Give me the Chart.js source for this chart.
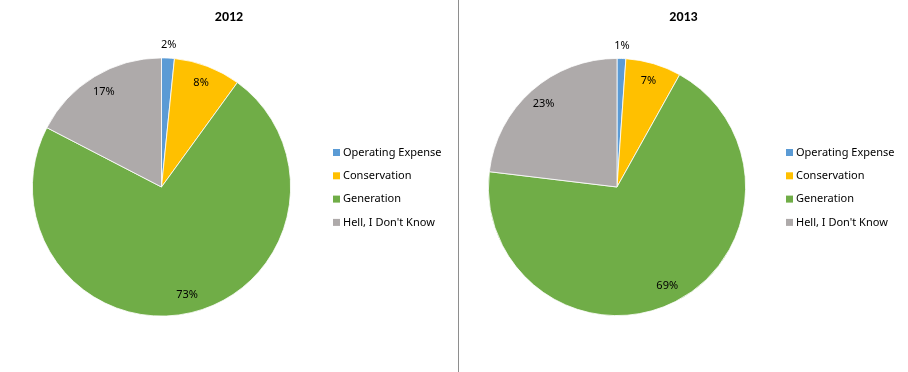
<!DOCTYPE html>
<html>
<head>
<meta charset="utf-8">
<script src="https://cdn.jsdelivr.net/npm/chart.js@4"></script>
<style>
  html, body { margin: 0; padding: 0; background: #fff; }
  #wrap { position: relative; width: 908px; height: 372px; overflow: hidden; }
  #c1 { position: absolute; left: 0; top: 0; }
  #c2 { position: absolute; left: 459px; top: 0; }
  #sep { position: absolute; left: 458px; top: 0; width: 1px; height: 372px; background: #8e8e8e; }
</style>
</head>
<body>
<div id="wrap">
  <canvas id="c1" width="458" height="372"></canvas>
  <div id="sep"></div>
  <canvas id="c2" width="449" height="372"></canvas>
</div>
<script>
const categories = ['Operating Expense', 'Conservation', 'Generation', "Hell, I Don't Know"];
const values2012 = [1.6, 8.4, 72.6, 17.4];
const values2013 = [1.1, 7.0, 68.8, 23.1];
const chartTitles = ['2012', '2013'];
const sliceColors = ['#5B9BD5', '#FFC000', '#70AD47', '#AEAAAA'];

const TITLE_FONT = "Calibri, Carlito, Lato, 'Liberation Sans', sans-serif";
const TEXT_FONT = "'Noto Sans', 'Open Sans', sans-serif";

const decorPlugin = {
  id: 'decor',
  afterDatasetsDraw(chart, args, opts) {
    const ctx = chart.ctx;
    const meta = chart.getDatasetMeta(0);
    const data = chart.data.datasets[0].data;
    ctx.save();
    ctx.fillStyle = '#000';
    ctx.font = "11px " + TEXT_FONT;
    ctx.textAlign = 'center';
    ctx.textBaseline = 'middle';
    meta.data.forEach((arc, i) => {
      const p = arc.getProps(['x', 'y', 'startAngle', 'endAngle', 'outerRadius'], true);
      const span = p.endAngle - p.startAngle;
      const mid = (p.startAngle + p.endAngle) / 2;
      const r = span < 0.3 ? p.outerRadius + 13 : p.outerRadius * 0.86;
      ctx.fillText(Math.round(data[i]) + '%', p.x + Math.cos(mid) * r, p.y + Math.sin(mid) * r);
    });
    ctx.font = "bold 14px " + TITLE_FONT;
    ctx.fillText(opts.title, chart.width / 2, 17);
    ctx.font = "11px " + TEXT_FONT;
    ctx.textAlign = 'left';
    chart.data.labels.forEach((lab, i) => {
      const y = opts.legendY + i * opts.legendGap;
      ctx.fillStyle = sliceColors[i];
      ctx.fillRect(opts.legendX, y - 3.5, 7, 7);
      ctx.fillStyle = '#000';
      ctx.fillText(lab, opts.legendX + 10, y);
    });
    ctx.restore();
  }
};

function makePie(id, values, title, pad, legendX) {
  return new Chart(document.getElementById(id), {
    type: 'pie',
    data: {
      labels: categories,
      datasets: [{
        data: values,
        backgroundColor: sliceColors,
        borderColor: '#ffffff',
        borderWidth: 0.8
      }]
    },
    options: {
      responsive: false,
      animation: false,
      devicePixelRatio: 1,
      layout: { padding: pad },
      plugins: {
        legend: { display: false },
        tooltip: { enabled: false },
        title: { display: false },
        decor: { title: title, legendX: legendX, legendY: 152.5, legendGap: 23.3 }
      }
    },
    plugins: [decorPlugin]
  });
}

makePie('c1', values2012, chartTitles[0], { left: 32, right: 167, top: 57, bottom: 55 }, 333);
makePie('c2', values2013, chartTitles[1], { left: 29, right: 162, top: 57, bottom: 55 }, 327);
</script>
</body>
</html>
